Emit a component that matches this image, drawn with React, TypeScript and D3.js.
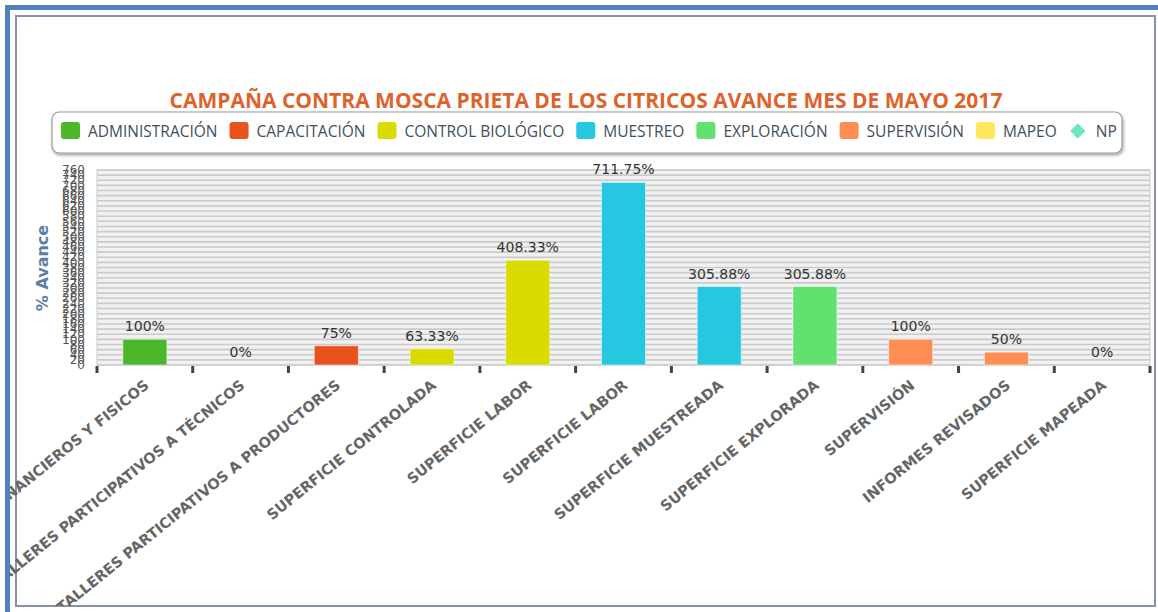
import React, { useEffect, useRef } from "react";
import * as d3 from "d3";

const title = "CAMPAÑA CONTRA MOSCA PRIETA DE LOS CITRICOS AVANCE MES DE MAYO 2017";
const yAxisTitle = "% Avance";

const categories = [
  "INFORMES FINANCIEROS Y FISICOS",
  "TALLERES PARTICIPATIVOS A TÉCNICOS",
  "TALLERES PARTICIPATIVOS A PRODUCTORES",
  "SUPERFICIE CONTROLADA",
  "SUPERFICIE LABOR",
  "SUPERFICIE LABOR",
  "SUPERFICIE MUESTREADA",
  "SUPERFICIE EXPLORADA",
  "SUPERVISIÓN",
  "INFORMES REVISADOS",
  "SUPERFICIE MAPEADA",
];
const values = [100, 0, 75, 63.33, 408.33, 711.75, 305.88, 305.88, 100, 50, 0];
const valueLabels = ["100%", "0%", "75%", "63.33%", "408.33%", "711.75%", "305.88%", "305.88%", "100%", "50%", "0%"];
const barGroups = [
  "ADMINISTRACIÓN",
  "CAPACITACIÓN",
  "CAPACITACIÓN",
  "CONTROL BIOLÓGICO",
  "CONTROL BIOLÓGICO",
  "MUESTREO",
  "MUESTREO",
  "EXPLORACIÓN",
  "SUPERVISIÓN",
  "SUPERVISIÓN",
  "MAPEO",
];

const legendNames = ["ADMINISTRACIÓN", "CAPACITACIÓN", "CONTROL BIOLÓGICO", "MUESTREO", "EXPLORACIÓN", "SUPERVISIÓN", "MAPEO", "NP"];
const legendColors = ["#4DB72C", "#E8521C", "#DADB00", "#26C7E1", "#62E171", "#FF8E54", "#FFE75E", "#6DE8BD"];
const legendShapes = ["rect", "rect", "rect", "rect", "rect", "rect", "rect", "diamond"];

const yTicks = [0, 20, 40, 60, 80, 100, 120, 140, 160, 180, 200, 220, 240, 260, 280, 300, 320, 340, 360, 380, 400, 420, 440, 460, 480, 500, 520, 540, 560, 580, 600, 620, 640, 660, 680, 700, 720, 740, 760];

const W = 1158;
const H = 612;

export default function App() {
  const ref = useRef<SVGSVGElement | null>(null);

  useEffect(() => {
    const svg = d3.select(ref.current);
    svg.selectAll("*").remove();

    // frame
    svg.append("rect").attr("x", 0).attr("y", 0).attr("width", W).attr("height", H).attr("fill", "#ffffff");
    svg.append("rect").attr("x", 5).attr("y", 5).attr("width", W - 5).attr("height", 5).attr("fill", "#4F81BD");
    svg.append("rect").attr("x", 5).attr("y", 5).attr("width", 5).attr("height", H - 5).attr("fill", "#4F81BD");
    svg.append("rect").attr("x", 16).attr("y", 16).attr("width", 1139).attr("height", 590)
      .attr("fill", "#ffffff").attr("stroke", "#8593A2").attr("stroke-width", 2);

    const defs = svg.append("defs");
    defs.append("clipPath").attr("id", "frameClip").append("rect")
      .attr("x", 10).attr("y", 10).attr("width", 1145).attr("height", 596);
    const f = defs.append("filter").attr("id", "shadow").attr("x", "-5%").attr("y", "-30%").attr("width", "110%").attr("height", "170%");
    f.append("feDropShadow").attr("dx", 1).attr("dy", 2).attr("stdDeviation", 1.5).attr("flood-color", "#000").attr("flood-opacity", 0.35);

    // title
    svg.append("text").attr("x", 586).attr("y", 108).attr("text-anchor", "middle")
      .attr("font-family", "'Open Sans', sans-serif").attr("font-weight", "bold").attr("font-size", 21)
      .attr("fill", "#E0622B").text(title);

    // legend
    const lg = svg.append("g");
    lg.append("rect").attr("x", 52).attr("y", 112).attr("width", 1070).attr("height", 41).attr("rx", 7)
      .attr("fill", "#ffffff").attr("stroke", "#9a9a9a").attr("stroke-width", 1.2).attr("filter", "url(#shadow)");
    let lx = 61;
    legendNames.forEach((name, i) => {
      if (legendShapes[i] === "diamond") {
        lg.append("path").attr("d", d3.symbol().type(d3.symbolDiamond2).size(150)())
          .attr("transform", `translate(${lx + 9},${131})`).attr("fill", legendColors[i]);
      } else {
        lg.append("rect").attr("x", lx).attr("y", 122).attr("width", 19).attr("height", 17).attr("rx", 3)
          .attr("fill", legendColors[i]);
      }
      const t = lg.append("text").attr("x", lx + 27).attr("y", 137)
        .attr("font-family", "'Open Sans', sans-serif").attr("font-size", 15.5).attr("fill", "#3E4F60").text(name);
      const w = (t.node() as SVGTextElement).getComputedTextLength();
      lx = lx + 27 + w + 12;
    });

    // plot
    const plotL = 97, plotR = 1150, plotT = 170, plotB = 365;
    const x = d3.scaleBand<number>().domain(d3.range(categories.length)).range([plotL, plotR]).padding(0);
    const y = d3.scaleLinear().domain([0, 760]).range([plotB, plotT]);

    const g = svg.append("g");
    g.append("rect").attr("x", plotL).attr("y", plotT).attr("width", plotR - plotL).attr("height", plotB - plotT)
      .attr("fill", "#F1F1F1").attr("stroke", "#C9C9C9");
    g.selectAll("line.grid").data(yTicks).enter().append("line").attr("class", "grid")
      .attr("x1", plotL).attr("x2", plotR).attr("y1", (d) => y(d)).attr("y2", (d) => y(d))
      .attr("stroke", "#CACACA").attr("stroke-width", 1.6);

    // y tick labels
    g.selectAll("text.yt").data(yTicks).enter().append("text").attr("class", "yt")
      .attr("x", 85).attr("y", (d) => y(d)).attr("dy", "0.35em").attr("text-anchor", "end")
      .attr("font-family", "'DejaVu Sans', sans-serif").attr("font-size", 12).attr("fill", "#555555")
      .text((d) => String(d));

    // y title
    g.append("text").attr("transform", `translate(48,${268}) rotate(-90)`).attr("text-anchor", "middle")
      .attr("font-family", "'DejaVu Sans', sans-serif").attr("font-weight", "bold").attr("font-size", 16)
      .attr("fill", "#5B7EA6").text(yAxisTitle);

    // bars
    const bw = x.bandwidth() * 0.46;
    const colorOf = (grp: string) => legendColors[legendNames.indexOf(grp)];
    g.selectAll("rect.bar").data(values).enter().append("rect").attr("class", "bar")
      .attr("x", (_d, i) => x(i)! + (x.bandwidth() - bw) / 2)
      .attr("y", (d) => y(d))
      .attr("width", bw)
      .attr("height", (d) => plotB - y(d))
      .attr("fill", (_d, i) => colorOf(barGroups[i]))
      .attr("stroke", "#ffffff").attr("stroke-opacity", 0.5).attr("stroke-width", 1);

    g.selectAll("text.vl").data(values).enter().append("text").attr("class", "vl")
      .attr("x", (_d, i) => x(i)! + x.bandwidth() / 2).attr("y", (d) => y(d) - 8)
      .attr("text-anchor", "middle").attr("font-family", "'DejaVu Sans', sans-serif").attr("font-size", 14)
      .attr("fill", "#333333").text((_d, i) => valueLabels[i]);

    // ticks at category boundaries
    const bounds = d3.range(categories.length + 1).map((i) => plotL + i * x.step());
    g.selectAll("rect.tk").data(bounds).enter().append("rect").attr("class", "tk")
      .attr("x", (d) => d - 1.5).attr("y", plotB + 1).attr("width", 3).attr("height", 7).attr("fill", "#444444");

    // x labels
    const xl = svg.append("g").attr("clip-path", "url(#frameClip)");
    xl.selectAll("text.xl").data(categories).enter().append("text").attr("class", "xl")
      .attr("transform", (_d, i) => `translate(${x(i)! + x.bandwidth() / 2 + 5},${387}) rotate(-39)`)
      .attr("text-anchor", "end").attr("font-family", "'DejaVu Sans', sans-serif").attr("font-weight", "bold")
      .attr("font-size", 14.5).attr("fill", "#666666").text((d) => d);
  }, []);

  return (
    <svg ref={ref} width={W} height={H} style={{ position: "absolute", left: 0, top: 0, display: "block" }} />
  );
}
